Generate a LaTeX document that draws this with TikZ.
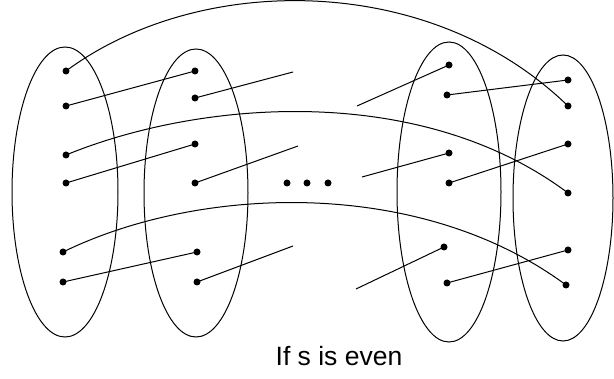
\documentclass[tikz,border=0pt]{standalone}
\usepackage{fontspec}
\setmainfont{Liberation Sans}
\begin{document}
\begin{tikzpicture}[x=1pt,y=-1pt,
  dot/.style={circle,fill=black,inner sep=0pt,minimum size=7pt},
  link/.style={line width=1pt},
  grp/.style={line width=1pt}]
\useasboundingbox (0,0) rectangle (614,379);
% groups
\draw[grp] (65,192) ellipse [x radius=53,y radius=145];
\draw[grp] (196,193) ellipse [x radius=52,y radius=144];
\draw[grp] (449,192) ellipse [x radius=52,y radius=150];
\draw[grp] (563,198) ellipse [x radius=50,y radius=143];
% dots group 1
\node[dot] (a1) at (66,71) {};
\node[dot] (a2) at (66,106) {};
\node[dot] (a3) at (66,155) {};
\node[dot] (a4) at (66,183) {};
\node[dot] (a5) at (63,252) {};
\node[dot] (a6) at (63,282) {};
% group 2
\node[dot] (b1) at (195,71) {};
\node[dot] (b2) at (195,98) {};
\node[dot] (b3) at (195,144) {};
\node[dot] (b4) at (195,183) {};
\node[dot] (b5) at (197,252) {};
\node[dot] (b6) at (197,282) {};
% group 3
\node[dot] (c1) at (449,65) {};
\node[dot] (c2) at (447,95) {};
\node[dot] (c3) at (449,153) {};
\node[dot] (c4) at (449,183) {};
\node[dot] (c5) at (444,247) {};
\node[dot] (c6) at (447,283) {};
% group 4
\node[dot] (d1) at (568,80) {};
\node[dot] (d2) at (568,106) {};
\node[dot] (d3) at (568,144) {};
\node[dot] (d4) at (568,193) {};
\node[dot] (d5) at (568,250) {};
\node[dot] (d6) at (566,285) {};
% ellipsis
\node[dot] (e1) at (287,183) {};
\node[dot] (e2) at (307,183) {};
\node[dot] (e3) at (328,183) {};
% free ends
\coordinate (f1) at (293,72);
\coordinate (f2) at (298,146);
\coordinate (f3) at (293,246);
\coordinate (g1) at (357,106);
\coordinate (g2) at (362,177);
\coordinate (g3) at (356,289);
% straight links
\draw[link] (a2.center) -- (b1.center);
\draw[link] (a4.center) -- (b3.center);
\draw[link] (a6.center) -- (b5.center);
\draw[link] (b2.center) -- (f1);
\draw[link] (b4.center) -- (f2);
\draw[link] (b6.center) -- (f3);
\draw[link] (g1) -- (c1.center);
\draw[link] (g2) -- (c3.center);
\draw[link] (g3) -- (c5.center);
\draw[link] (c2.center) -- (d1.center);
\draw[link] (c4.center) -- (d3.center);
\draw[link] (c6.center) -- (d5.center);
% long curves
\draw[link] (a1.center) .. controls (200,-28) and (430,-28) .. (d2.center);
\draw[link] (a3.center) .. controls (200,100) and (420,82) .. (d4.center);
\draw[link] (a5.center) .. controls (200,185) and (420,177) .. (d6.center);
% caption
\node[font=\fontsize{26.5}{30}\selectfont,anchor=base] (cap) at (339,366) {If s is even};
\end{tikzpicture}
\end{document}
